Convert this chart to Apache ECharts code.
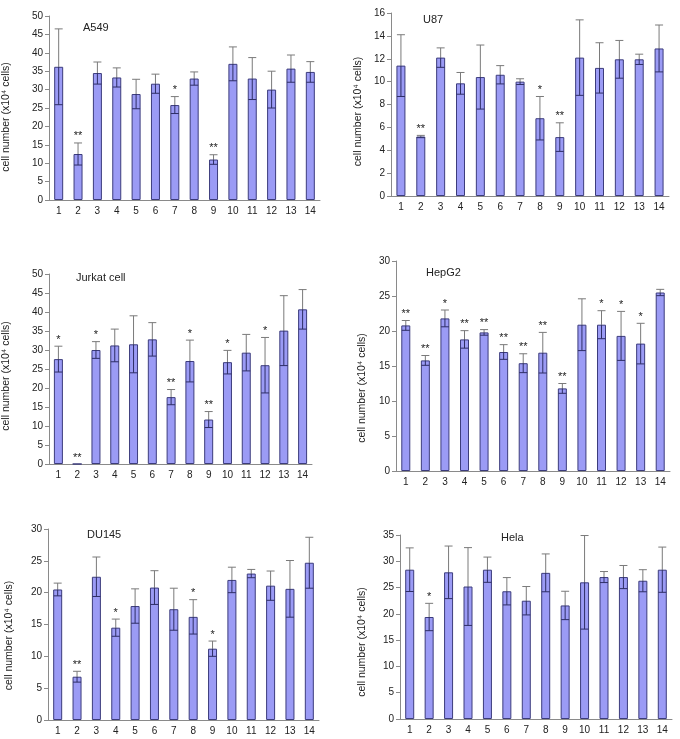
<!DOCTYPE html>
<html><head><meta charset="utf-8">
<script src="https://cdn.jsdelivr.net/npm/echarts@6/dist/echarts.min.js"></script>
<style>html,body{margin:0;padding:0;background:#fff}#c{width:680px;height:739px}</style>
</head><body><div id="c"></div>
<script>
const categories = ['1','2','3','4','5','6','7','8','9','10','11','12','13','14'];

const a549Mean = [36.2, 12.5, 34.5, 33.3, 28.8, 31.6, 25.8, 33.0, 11.0, 37.0, 33.0, 30.0, 35.7, 34.8];
const a549Err  = [10.3, 3.0, 3.0, 2.6, 4.0, 2.6, 2.3, 1.8, 1.3, 4.6, 5.7, 5.0, 3.7, 2.8];
const a549Sig  = ['', '**', '', '', '', '', '*', '', '**', '', '', '', '', ''];

const u87Mean = [11.4, 5.2, 12.1, 9.85, 10.4, 10.6, 10.0, 6.8, 5.15, 12.1, 11.2, 11.95, 11.95, 12.9];
const u87Err  = [2.7, 0.1, 0.85, 0.95, 2.8, 0.8, 0.25, 1.9, 1.25, 3.3, 2.2, 1.65, 0.45, 2.05];
const u87Sig  = ['', '**', '', '', '', '', '', '*', '**', '', '', '', '', ''];

const jurkatMean = [27.6, 0, 30.0, 31.2, 31.5, 32.8, 17.6, 27.1, 11.7, 26.8, 29.3, 26.0, 35.1, 40.7];
const jurkatErr  = [3.4, 0, 2.2, 4.3, 7.5, 4.4, 2.0, 5.5, 2.1, 3.1, 4.8, 7.3, 9.2, 5.2];
const jurkatSig  = ['*', '**', '*', '', '', '', '**', '*', '**', '*', '', '*', '', ''];

const hepg2Mean = [20.8, 15.8, 21.8, 18.8, 19.8, 17.0, 15.4, 16.9, 11.8, 20.9, 20.9, 19.3, 18.2, 25.5];
const hepg2Err  = [0.7, 0.7, 1.2, 1.25, 0.4, 1.05, 1.35, 2.9, 0.7, 3.7, 2.0, 3.5, 2.9, 0.45];
const hepg2Sig  = ['**', '**', '*', '**', '**', '**', '**', '**', '**', '', '*', '*', '*', ''];

const du145Mean = [20.5, 6.8, 22.5, 14.5, 17.9, 20.8, 17.4, 16.2, 11.2, 22.0, 23.0, 21.1, 20.6, 24.7];
const du145Err  = [1.0, 0.85, 3.1, 1.35, 2.7, 2.65, 3.3, 2.7, 1.2, 2.0, 0.65, 2.3, 4.45, 4.0];
const du145Sig  = ['', '**', '', '*', '', '', '', '*', '*', '', '', '', '', ''];

const helaMean = [28.4, 19.4, 27.9, 25.2, 28.4, 24.3, 22.5, 27.8, 21.6, 26.0, 27.0, 27.0, 26.3, 28.4];
const helaErr  = [4.15, 2.6, 5.0, 7.4, 2.4, 2.6, 2.7, 3.6, 2.7, 8.9, 1.05, 2.2, 2.1, 4.3];
const helaSig  = ['', '*', '', '', '', '', '', '', '', '', '', '', '', ''];

const yName = 'cell number (x10\u2074 cells)';

const panels = [
  {name:'A549', mean:a549Mean, err:a549Err, sig:a549Sig, max:50, interval:5,
   grid:{left:48, top:16, width:272, height:184}, nameGap:37, nameShift:9, title:[83,22]},
  {name:'U87', mean:u87Mean, err:u87Err, sig:u87Sig, max:16, interval:2,
   grid:{left:391, top:13, width:278, height:183}, nameGap:27, nameShift:7, title:[423,14]},
  {name:'Jurkat cell', mean:jurkatMean, err:jurkatErr, sig:jurkatSig, max:50, interval:5,
   grid:{left:48, top:274, width:264, height:190}, nameGap:37, nameShift:7, title:[76,272]},
  {name:'HepG2', mean:hepg2Mean, err:hepg2Err, sig:hepg2Sig, max:30, interval:5,
   grid:{left:396, top:261, width:274, height:210}, nameGap:28, nameShift:22, title:[426,267]},
  {name:'DU145', mean:du145Mean, err:du145Err, sig:du145Sig, max:30, interval:5,
   grid:{left:48, top:529, width:271, height:191}, nameGap:33, nameShift:11, title:[87,529]},
  {name:'Hela', mean:helaMean, err:helaErr, sig:helaSig, max:35, interval:5,
   grid:{left:400, top:535, width:272, height:184}, nameGap:32, nameShift:15, title:[501,532]}
];

const FONT = 'Liberation Sans, Arial, sans-serif';
const grids = [], xAxes = [], yAxes = [], series = [], titles = [];

panels.forEach((p, k) => {
  grids.push(Object.assign({containLabel:false}, p.grid));
  titles.push({text:p.name, left:p.title[0], top:p.title[1], padding:0,
    textStyle:{fontSize:11, fontWeight:'normal', color:'#222', fontFamily:FONT}});
  xAxes.push({type:'category', data:categories, gridIndex:k,
    axisLine:{lineStyle:{color:'#8a8a8a', width:1}},
    axisTick:{show:false},
    axisLabel:{color:'#222', fontSize:10, fontFamily:FONT, margin:6, interval:0}});
  yAxes.push({type:'value', gridIndex:k, min:0, max:p.max, interval:p.interval,
    name:yName, nameLocation:'middle', nameRotate:90, nameGap:p.nameGap,
    nameTextStyle:{fontSize:10.5, color:'#222', fontFamily:FONT, padding:[0, 2 * p.nameShift, 0, 0]},
    axisLine:{show:true, lineStyle:{color:'#8a8a8a', width:1}},
    axisTick:{show:true, length:4, lineStyle:{color:'#8a8a8a'}},
    splitLine:{show:false},
    axisLabel:{color:'#222', fontSize:10, fontFamily:FONT, margin:6}});
  series.push({type:'bar', xAxisIndex:k, yAxisIndex:k, data:p.mean, barWidth:9,
    itemStyle:{color:'#9b9bf5', borderColor:'#3c3c7c', borderWidth:1},
    silent:true, animation:false});
  const errData = p.mean.map((m, i) => [i, m, p.err[i]]);
  series.push({type:'custom', xAxisIndex:k, yAxisIndex:k, data:errData,
    encode:{x:0, y:1}, silent:true, animation:false, z:5,
    renderItem:function(params, api){
      const i = api.value(0), m = api.value(1), e = api.value(2);
      const top = api.coord([i, m + e]);
      const mid = api.coord([i, m]);
      const bot = api.coord([i, Math.max(0, m - e)]);
      const x = top[0], hw = 4;
      const children = [];
      if (e > 0) {
        children.push({type:'line', shape:{x1:x, y1:top[1], x2:x, y2:mid[1]},
          style:{stroke:'#7a7a7a', lineWidth:1}});
        children.push({type:'line', shape:{x1:x-hw, y1:top[1], x2:x+hw, y2:top[1]},
          style:{stroke:'#7a7a7a', lineWidth:1}});
        children.push({type:'line', shape:{x1:x, y1:mid[1], x2:x, y2:bot[1]},
          style:{stroke:'#2e2e66', lineWidth:1}});
        children.push({type:'line', shape:{x1:x-hw, y1:bot[1], x2:x+hw, y2:bot[1]},
          style:{stroke:'#2e2e66', lineWidth:1}});
      }
      const s = p.sig[params.dataIndex];
      if (s) {
        children.push({type:'text', x:x, y:top[1] - 1,
          style:{text:s, fill:'#222', fontSize:11, fontFamily:FONT,
            align:'center', verticalAlign:'bottom'}});
      }
      return {type:'group', children:children};
    }});
});

const chart = echarts.init(document.getElementById('c'), null, {renderer:'canvas'});
chart.setOption({animation:false, backgroundColor:'#fff', title:titles,
  grid:grids, xAxis:xAxes, yAxis:yAxes, series:series});
</script></body></html>
